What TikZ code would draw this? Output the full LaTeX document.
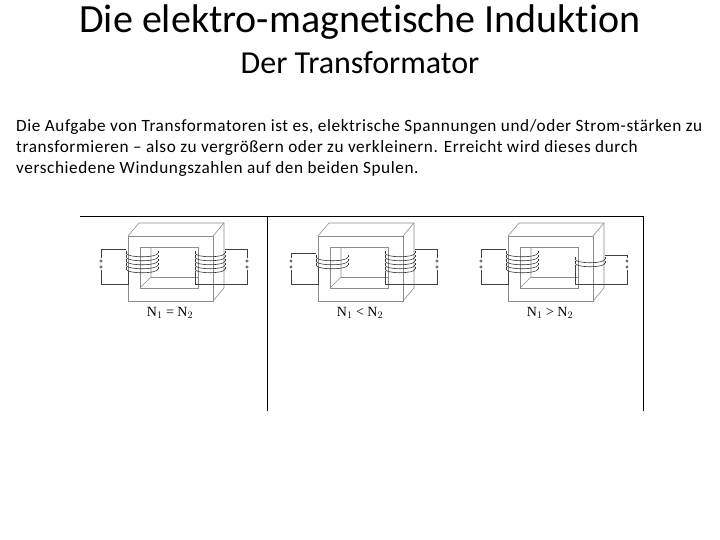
\documentclass[tikz,border=0pt]{standalone}
\usepackage{fontspec}
\setmainfont[Ligatures={NoCommon}]{Carlito}
\newfontfamily\bodyfont[Ligatures={NoCommon},LetterSpace=3.4]{Carlito}
\newfontfamily\tnr{Liberation Serif}
\tikzset{core/.style={draw=black!45,line width=0.6pt},
 coil/.style={draw=black!80,line width=0.6pt},
 wire/.style={draw=black!75,line width=0.6pt},
 frame/.style={draw=black,line width=0.9pt}}
\newcommand\coilturns[3]{% cx, width, n
  \pgfmathsetmacro\ystart{263-2*(#3-1)}
  \foreach \i in {1,...,#3}{
    \pgfmathsetmacro\yy{\ystart+4*(\i-1)}
    \draw[coil] ({#1-#2/2},{\yy-2}) .. controls ({#1-#2/2},{\yy+3}) and ({#1+#2/2},{\yy+3}) .. ({#1+#2/2},{\yy-2});
    \draw[coil] ({#1-#2/2},{\yy-2}) -- ({#1-#2/2},{\yy-4});
    \draw[coil] ({#1+#2/2},{\yy-2}) -- ({#1+#2/2},{\yy-4});
  }}
\newcommand\trafo[4]{%
  \begin{scope}[xshift=#1pt]
  \draw[core] (-31,223) -- (54,223) -- (54,288) -- (43,301);
  \draw[core] (-42,236) -- (-31,223); \draw[core] (43,236) -- (54,223);
  \draw[core] (-42,236) rectangle (43,301);
  \draw[core] (-30,247) rectangle (28,288);
  \draw[core] (-30,288) -- (-19,277) -- (-19,247);
  \draw[core] (-19,277) -- (28,277);
  \coilturns{-28}{32}{#2}
  \coilturns{40}{30}{#3}
  \pgfmathsetmacro\lt{263-2*(#2-1)-6}\pgfmathsetmacro\lb{263+2*(#2-1)}
  \pgfmathsetmacro\rt{263-2*(#3-1)-6}\pgfmathsetmacro\rb{263+2*(#3-1)}
  \draw[wire] (-44,\lt) -- (-69,\lt) -- (-69,258);
  \draw[wire] (-69,270) -- (-69,284) -- (-42,284) -- (-42,\lb);
  \draw[wire] (-69,261) circle (1.3) (-69,267) circle (1.3);
  \draw[wire] (55,\rt) -- (77,\rt) -- (77,258);
  \draw[wire] (77,270) -- (77,284) -- (25,284) -- (25,\rb);
  \draw[wire] (77,261) circle (1.3) (77,267) circle (1.3);
  \node[font=\tnr\fontsize{14}{16}\selectfont] (lab) at (0,313) {#4};
  \end{scope}}
\begin{document}
\begin{tikzpicture}[x=1pt,y=-1pt]
\useasboundingbox (0,0) rectangle (720,540);
\node[font=\fontsize{40}{44}\selectfont] (t1) at (360,22) {Die elektro-magnetische Induktion};
\node[font=\fontsize{32}{36}\selectfont] (t2) at (360,63) {Der Transformator};
\node[font=\bodyfont\fontsize{17.2}{21}\selectfont,align=left,anchor=north west,inner sep=0pt] (body) at (16,119)
 {Die Aufgabe von Transformatoren ist es, elektrische Spannungen und/oder Strom-stärken zu\\ transformieren – also zu vergrößern oder zu verkleinern. Erreicht wird dieses durch\\ verschiedene Windungszahlen auf den beiden Spulen.};
\draw[frame] (80,216) -- (643,216);
\draw[frame] (267,216) -- (267,411);
\draw[frame] (643,216) -- (643,411);
\trafo{170}{5}{5}{N$_1$ = N$_2$}
\trafo{360}{3}{5}{N$_1$ < N$_2$}
\trafo{550}{5}{2}{N$_1$ > N$_2$}
\end{tikzpicture}
\end{document}
